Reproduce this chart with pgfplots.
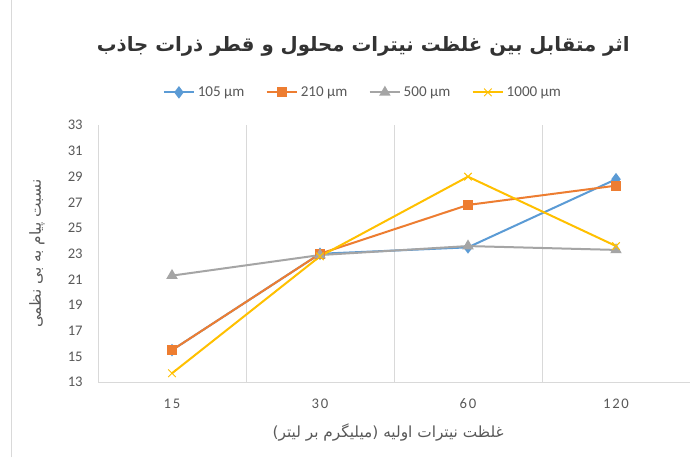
\documentclass[border=0pt]{standalone}
\usepackage{fontspec}
\usepackage{pgfplots}
\pgfplotsset{compat=1.18}
\setmainfont{Carlito}
\newfontfamily\arabicfont[Script=Arabic]{DejaVu Sans}
\newfontfamily\spacedfont[LetterSpace=12]{Carlito}
\TeXXeTstate=1
\definecolor{cblue}{HTML}{5B9BD5}
\definecolor{corange}{HTML}{ED7D31}
\definecolor{cgray}{HTML}{A5A5A5}
\definecolor{cyellow}{HTML}{FFC000}
\definecolor{txt}{HTML}{595959}
\definecolor{axisgray}{HTML}{D9D9D9}
\begin{document}
\begin{tikzpicture}[x=0.75pt,y=0.75pt]
  % page frame, 698 x 457 px
  \fill[white] (0,0) rectangle (698,457);
  \draw[axisgray] (11,0) -- (11,457);
  \begin{axis}[
      at={(98*0.75pt,75*0.75pt)}, anchor=south west,
      scale only axis,
      width=444pt, height=192.75pt,
      xmin=-0.5, xmax=3.5,
      ymin=13, ymax=33,
      ytick={13,15,...,33},
      xtick={0,1,2,3},
      xticklabels={15,30,60,120},
      minor xtick={0.5,1.5,2.5},
      xminorgrids=true,
      minor grid style={axisgray, line width=0.75pt},
      major tick length=0pt, minor tick length=0pt,
      axis x line*=bottom, axis y line*=left,
      axis line style={axisgray, line width=0.75pt, -},
      every tick label/.append style={font=\fontsize{11}{13}\selectfont, text=txt},
      xticklabel style={font=\spacedfont\fontsize{11}{13}\selectfont, yshift=-9pt},
      yticklabel style={xshift=-8pt},
      /pgf/number format/assume math mode=true,
      xlabel={\arabicfont\beginR غلظت نیترات اولیه (میلیگرم بر لیتر)\endR},
      ylabel={\arabicfont\beginR نسبت پیام به بی نظمی\endR},
      xlabel style={at={(axis description cs:0.49,-0.195)}, anchor=center,
        font=\fontsize{11.5}{13}\selectfont, text=txt},
      ylabel style={at={(axis description cs:-0.103,0.5)}, anchor=center,
        font=\fontsize{11.5}{13}\selectfont, text=txt},
      title={\arabicfont\bfseries\beginR اثر متقابل بین غلظت نیترات محلول و قطر ذرات جاذب\endR},
      title style={at={(0.448,1.277)}, anchor=center, yshift=0pt,
        font=\fontsize{14.8}{17}\selectfont, text=black!80},
      legend columns=4,
      legend style={at={(0.448,1.128)}, anchor=center, draw=none, fill=none,
        font=\fontsize{11.3}{13}\selectfont, text=txt,
        /tikz/every even column/.append style={column sep=14pt}},
      legend image code/.code={%
        \draw[mark repeat=2, mark phase=2, sharp plot]
          plot coordinates {(0cm,0cm) (0.4cm,0cm) (0.8cm,0cm)};},
      every axis plot/.append style={line width=1.5pt},
    ]
    \addplot[cblue, mark=diamond*, mark size=3.5pt] coordinates {(0,15.5) (1,23.0) (2,23.5) (3,28.8)};
    \addlegendentry{105 µm}
    \addplot[corange, mark=square*, mark size=3pt] coordinates {(0,15.5) (1,23.0) (2,26.8) (3,28.3)};
    \addlegendentry{210 µm}
    \addplot[cgray, mark=triangle*, mark size=3.5pt] coordinates {(0,21.3) (1,22.9) (2,23.6) (3,23.3)};
    \addlegendentry{500 µm}
    \addplot[cyellow, mark=x, mark size=4pt, mark options={line width=0.75pt}] coordinates {(0,13.7) (1,22.8) (2,29.0) (3,23.6)};
    \addlegendentry{1000 µm}
  \end{axis}
\end{tikzpicture}
\end{document}
